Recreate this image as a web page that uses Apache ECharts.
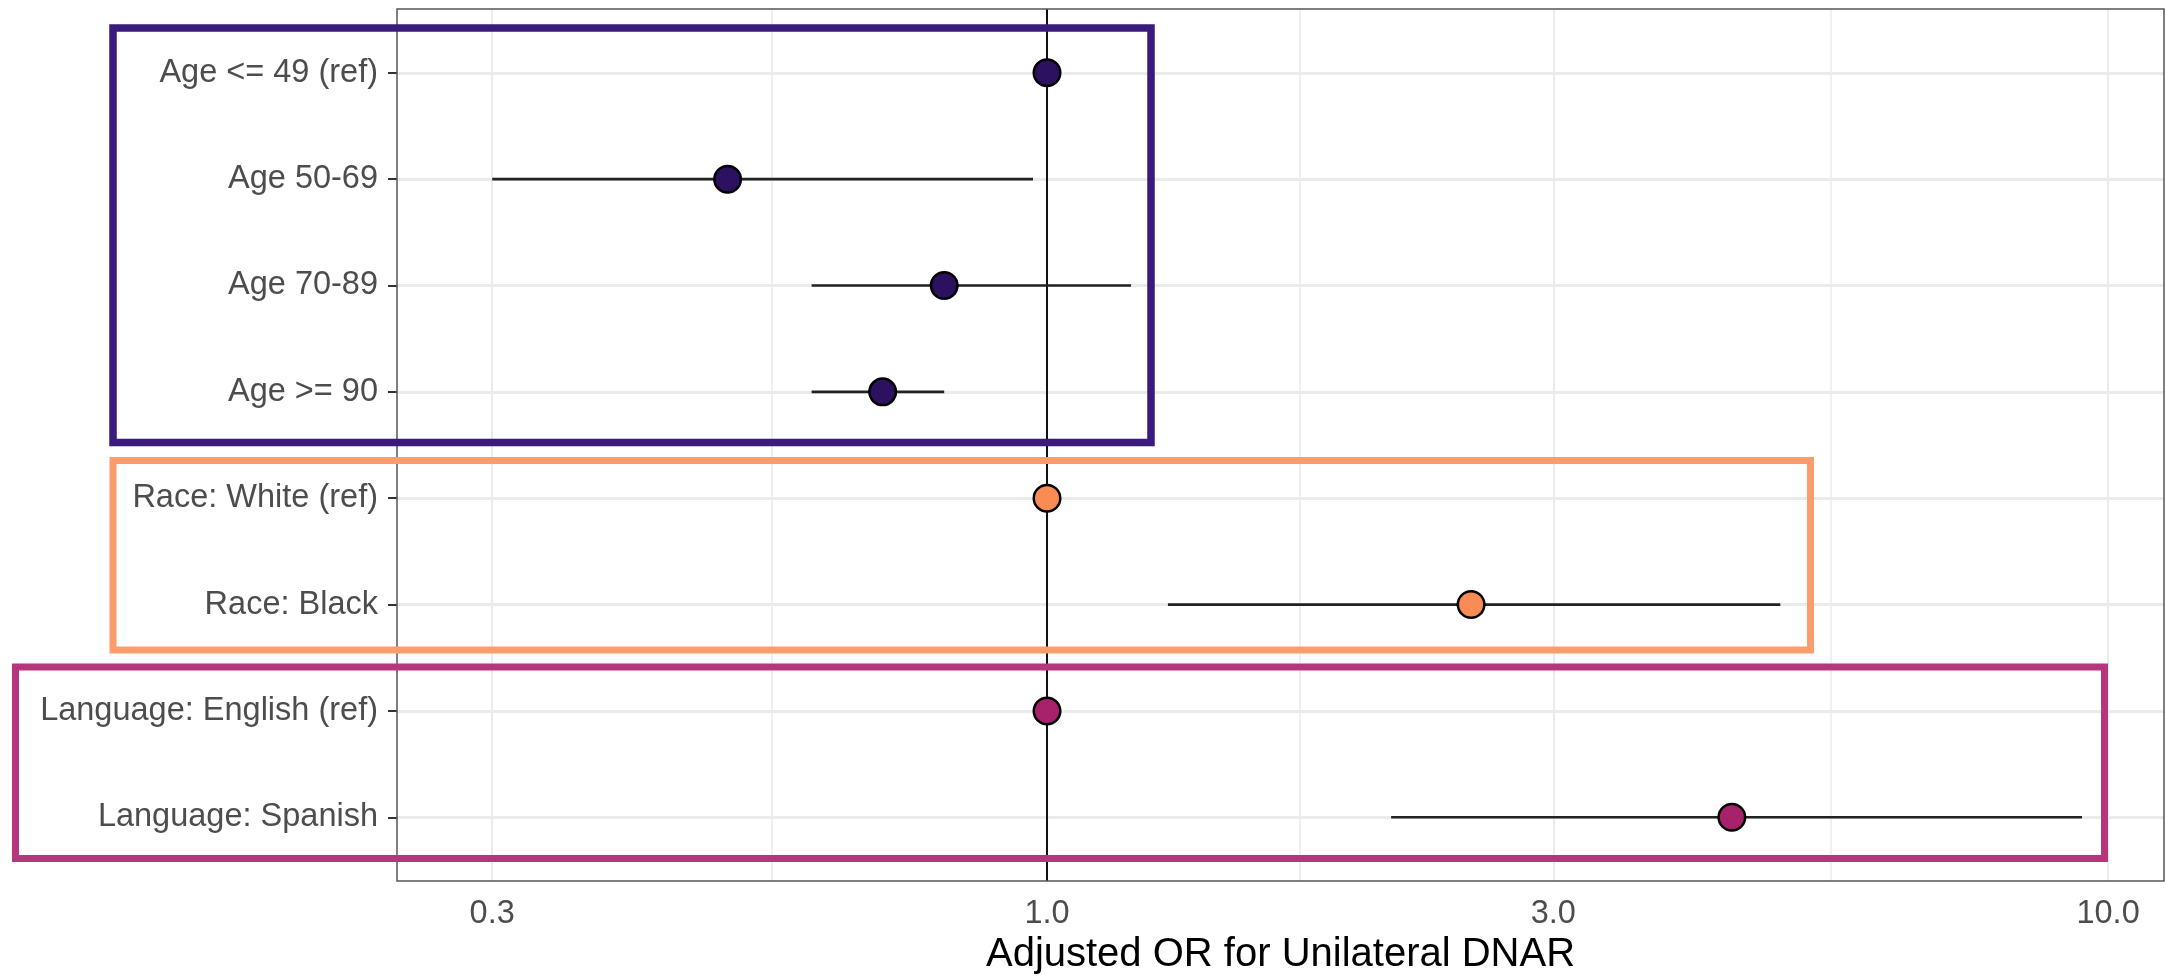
<!DOCTYPE html>
<html>
<head>
<meta charset="utf-8">
<script src="https://cdn.jsdelivr.net/npm/echarts@6/dist/echarts.min.js"></script>
<style>
html,body{margin:0;padding:0;background:#fff;}
#chart{width:2166px;height:980px;}
</style>
</head>
<body>
<div id="chart"></div>
<script>
// ---- data ----
const categories = ['Age <= 49 (ref)', 'Age 50-69', 'Age 70-89', 'Age >= 90',
  'Race: White (ref)', 'Race: Black', 'Language: English (ref)', 'Language: Spanish'];
const groups = ['age', 'age', 'age', 'age', 'race', 'race', 'lang', 'lang'];
const oddsRatio = [1.0, 0.50, 0.80, 0.70, 1.0, 2.51, 1.0, 4.42];
const ciLower = [null, 0.30, 0.60, 0.60, null, 1.30, null, 2.11];
const ciUpper = [null, 0.97, 1.20, 0.80, null, 4.91, null, 9.45];
const xTickValues = [0.3, 1, 3, 10];
const xMinorGrid = [0.548, 1.732, 5.477];
const refLine = 1;
const axisTitle = 'Adjusted OR for Unilateral DNAR';

// ---- styles ----
const fillColors = { age: '#2C1160', race: '#F98B55', lang: '#A8216B' };
const FONT = '"Liberation Sans", Arial, Helvetica, sans-serif';

const chart = echarts.init(document.getElementById('chart'), null, { renderer: 'canvas' });

const yIdx = categories.map((c, i) => i);
const gridLineStyle = { type: 'solid', color: '#EBEBEB' };

const option = {
  animation: false,
  backgroundColor: '#ffffff',
  grid: {
    left: 397, right: 2, top: 9, bottom: 97,
    show: true, borderColor: '#555555', borderWidth: 1.5, backgroundColor: 'transparent',
    z: 5
  },
  xAxis: {
    type: 'log', logBase: 10,
    min: 0.2440, max: 11.29,
    axisLine: { show: false },
    axisTick: { show: true, customValues: xTickValues, length: 8, lineStyle: { color: '#333', width: 2 } },
    axisLabel: {
      show: true, customValues: xTickValues, margin: 16,
      formatter: v => Number(v).toFixed(1),
      color: '#4D4D4D', fontSize: 32.5, fontFamily: FONT
    },
    splitLine: { show: false },
    minorSplitLine: { show: false },
    name: axisTitle, nameLocation: 'middle', nameGap: 52,
    nameTextStyle: { color: '#000', fontSize: 40, fontFamily: FONT }
  },
  yAxis: {
    type: 'value', inverse: true,
    min: -0.6, max: 7.6,
    axisLine: { show: false },
    axisTick: { show: true, customValues: yIdx, length: 9, lineStyle: { color: '#333', width: 2 } },
    axisLabel: {
      show: true, customValues: yIdx, margin: 19,
      formatter: v => categories[Math.round(v)] || '',
      color: '#4D4D4D', fontSize: 32.5, fontFamily: FONT
    },
    splitLine: { show: false }
  },
  series: [
    {
      // background grid lines
      type: 'scatter', data: [], z: 1, silent: true,
      markLine: {
        z: 1,
        silent: true, symbol: ['none', 'none'], label: { show: false }, animation: false,
        data: [
          ...yIdx.map(i => ({ yAxis: i, lineStyle: Object.assign({}, gridLineStyle, { width: 3 }) })),
          ...xTickValues.map(v => ({ xAxis: v, lineStyle: Object.assign({}, gridLineStyle, { width: 2.2 }) })),
          ...xMinorGrid.map(v => ({ xAxis: v, lineStyle: Object.assign({}, gridLineStyle, { width: 1.5 }) }))
        ]
      }
    },
    {
      // reference vertical line at OR = 1
      type: 'scatter', data: [], z: 2, silent: true,
      markLine: {
        z: 2,
        silent: true, symbol: ['none', 'none'], label: { show: false }, animation: false,
        data: [{ xAxis: refLine, lineStyle: { type: 'solid', color: '#111', width: 2 } }]
      }
    },
    {
      // confidence intervals
      type: 'custom', z: 10, silent: true,
      data: categories.map((c, i) => ciLower[i] == null ? null : [ciLower[i], ciUpper[i], i]).filter(d => d),
      encode: { x: [0, 1], y: 2 },
      renderItem: function (params, api) {
        const p1 = api.coord([api.value(0), api.value(2)]);
        const p2 = api.coord([api.value(1), api.value(2)]);
        return {
          type: 'line',
          shape: { x1: p1[0], y1: p1[1], x2: p2[0], y2: p2[1] },
          style: { stroke: '#222222', lineWidth: 2.6 }
        };
      }
    },
    {
      // point estimates
      type: 'scatter', z: 11, silent: true,
      symbol: 'circle', symbolSize: 26.5,
      data: categories.map((c, i) => ({
        value: [oddsRatio[i], i],
        itemStyle: { color: fillColors[groups[i]], borderColor: '#000', borderWidth: 2.5, opacity: 1 }
      }))
    }
  ],
  graphic: [
    { type: 'rect', z: 100, silent: true, shape: { x: 113, y: 28, width: 1038, height: 414.5 },
      style: { fill: 'none', stroke: '#3A1B7B', lineWidth: 7.5 } },
    { type: 'rect', z: 100, silent: true, shape: { x: 113, y: 460.5, width: 1697.5, height: 189.5 },
      style: { fill: 'none', stroke: '#FB9C6C', lineWidth: 7 } },
    { type: 'rect', z: 100, silent: true, shape: { x: 15.5, y: 667, width: 2089, height: 191.5 },
      style: { fill: 'none', stroke: '#B5367A', lineWidth: 7 } }
  ]
};

chart.setOption(option);
</script>
</body>
</html>
